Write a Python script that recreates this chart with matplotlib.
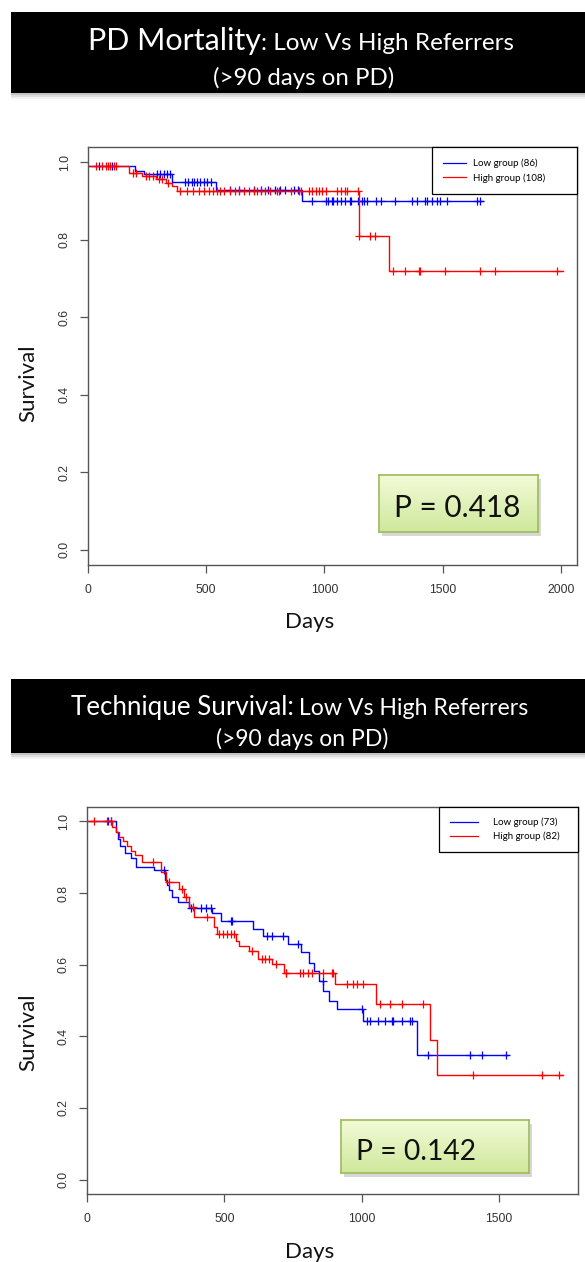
import numpy as np
import matplotlib
matplotlib.use("Agg")
import matplotlib.pyplot as plt
from matplotlib.patches import Rectangle

# ---- data (Kaplan-Meier steps: time in days, survival) ----
# PD mortality
mort_low_t = [0, 199, 237, 356, 542, 907]
mort_low_s = [0.99, 0.977, 0.969, 0.95, 0.929, 0.90]
mort_low_end = 1669
mort_low_cens = [45, 100, 290, 305, 320, 335, 345, 410, 425, 440, 450, 460, 475, 490, 505, 520,
                 600, 640, 700, 730, 760, 790, 810, 835, 870, 890,
                 949, 1008, 1013, 1030, 1034, 1051, 1072, 1085, 1106, 1114, 1140, 1157, 1169, 1178,
                 1220, 1241, 1297, 1369, 1390, 1424, 1432, 1453, 1475, 1487, 1517, 1644, 1657]
mort_high_t = [0, 174, 230, 288, 330, 356, 377, 1144, 1271]
mort_high_s = [0.99, 0.973, 0.965, 0.958, 0.948, 0.939, 0.926, 0.81, 0.72]
mort_high_end = 2008
mort_high_cens = [35, 60, 75, 85, 95, 110, 120, 190, 205, 245, 260, 275, 300, 315, 340,
                  390, 420, 445, 470, 490, 510, 530, 545, 560, 575, 600, 620, 640, 660, 680, 700,
                  715, 730, 750, 770, 800, 809, 860, 894, 902, 936, 949, 966, 979, 991, 1008,
                  1055, 1072, 1085, 1097, 1140, 1148, 1191, 1212,
                  1288, 1339, 1398, 1402, 1508, 1657, 1720, 1983]
mort_labels = ["Low group (86)", "High group (108)"]
mort_p = "P = 0.418"
mort_xticks = [0, 500, 1000, 1500, 2000]

# Technique survival
tech_low_t = [0, 106, 112, 120, 137, 160, 178, 245, 285, 292, 300, 310, 330, 372, 457, 488,
              604, 640, 731, 780, 810, 825, 845, 860, 880, 909, 1004, 1201]
tech_low_s = [1.0, 0.97, 0.95, 0.93, 0.913, 0.898, 0.873, 0.864, 0.836, 0.822, 0.808, 0.79,
              0.775, 0.757, 0.743, 0.723, 0.70, 0.68, 0.658, 0.634, 0.606, 0.582, 0.554,
              0.526, 0.498, 0.475, 0.442, 0.349]
tech_low_end = 1533
tech_low_cens = [77, 88, 281, 379, 415, 433, 451, 524, 528, 657, 672, 712, 767, 858, 1000,
                 1018, 1029, 1059, 1084, 1110, 1113, 1146, 1175, 1183, 1241, 1394, 1438, 1526]
tech_high_t = [0, 91, 104, 117, 131, 146, 160, 175, 201, 270, 289, 336, 354, 372, 391, 464,
               475, 544, 555, 591, 621, 675, 719, 902, 1054, 1248, 1274]
tech_high_s = [1.0, 0.985, 0.97, 0.957, 0.945, 0.93, 0.918, 0.905, 0.887, 0.859, 0.831, 0.81,
               0.788, 0.76, 0.733, 0.704, 0.686, 0.667, 0.652, 0.639, 0.616, 0.602, 0.578,
               0.545, 0.489, 0.39, 0.292]
tech_high_end = 1734
tech_high_cens = [26, 73, 88, 240, 300, 345, 360, 385, 438, 482, 495, 510, 525, 537, 600,
                  639, 650, 664, 690, 723, 726, 774, 785, 803, 818, 858, 891, 894, 945, 967,
                  982, 1004, 1066, 1102, 1146, 1223, 1405, 1657, 1719]
tech_labels = ["Low group (73)", "High group (82)"]
tech_p = "P = 0.142"
tech_xticks = [0, 500, 1000, 1500]

yticks = [0.0, 0.2, 0.4, 0.6, 0.8, 1.0]

W, H = 585, 1262
SANS = ["Lato", "DejaVu Sans"]
TICKF = ["Liberation Sans", "DejaVu Sans"]

fig = plt.figure(figsize=(W / 100, H / 100), dpi=100)
fig.patch.set_facecolor("white")
renderer = fig.canvas.get_renderer()


def frect(x0, y0, x1, y1):
    """pixel box (top-left origin) -> figure fraction [l, b, w, h]"""
    return [x0 / W, 1 - y1 / H, (x1 - x0) / W, (y1 - y0) / H]


def fit_text(x, y, s, width, **kw):
    """place text at pixel x (left) / baseline y, sized so it is `width` px wide"""
    t = fig.text(x / W, 1 - y / H, s, fontsize=10, family=SANS, va="baseline", **kw)
    w = t.get_window_extent(renderer).width
    t.set_fontsize(10 * width / w)
    return t


def banner(y0, y1, parts, line2, l2_span, base1, base2):
    # soft grey shadow, then the black bar
    for k, a in enumerate([0.10, 0.18, 0.28]):
        fig.add_artist(Rectangle((11 / W, 1 - (y1 + 6 - 2 * k) / H), 1, (y1 - y0) / H,
                                 transform=fig.transFigure, color="#808080", alpha=a, lw=0))
    fig.add_artist(Rectangle((11 / W, 1 - y1 / H), 1, (y1 - y0) / H,
                             transform=fig.transFigure, color="black", lw=0))
    x = parts[0][1]
    for s, x0, x1 in parts:
        fit_text(x, base1, s, x1 - x0, color="white")
        x = x1
    fit_text(l2_span[0], base2, line2, l2_span[1] - l2_span[0], color="white")


def pbox(x0, y0, x1, y1, s, tx, tw, base):
    sh = fig.add_axes(frect(x0 + 3, y0 + 4, x1 + 3, y1 + 4))
    sh.set_facecolor("#bdbdbd")
    sh.set_xticks([]); sh.set_yticks([])
    for sp in sh.spines.values():
        sp.set_visible(False)
    sh.patch.set_alpha(0.6)
    b = fig.add_axes(frect(x0, y0, x1, y1))
    grad = np.linspace(0, 1, 64)[:, None]
    cmap = matplotlib.colors.LinearSegmentedColormap.from_list("g", ["#f3fbd8", "#cfe89c"])
    b.imshow(grad, aspect="auto", cmap=cmap, extent=[0, 1, 1, 0])
    b.set_xticks([]); b.set_yticks([])
    for sp in b.spines.values():
        sp.set_color("#9dbb5a"); sp.set_linewidth(1.2)
    fit_text(tx, base, s, tw, color="#111111")


def km(ax, t, s, end, cens, color):
    t = np.asarray(t, float); s = np.asarray(s, float)
    ax.step(np.r_[t, end], np.r_[s, s[-1]], where="post", color=color, lw=1.0)
    c = np.asarray(cens, float)
    cy = s[np.searchsorted(t, c, side="right") - 1]
    ax.plot(c, cy, "+", color=color, ms=6, mew=0.9, ls="none")


def panel(rect, low, high, labels, xticks, xmax, leg_anchor, leg_kw, xlab_y, ylab_y):
    ax = fig.add_axes(rect)
    km(ax, *low, color="#0000ff")
    km(ax, *high, color="#ff0000")
    ax.set_xlim(0, xmax)
    ax.set_ylim(-0.04, 1.04)
    ax.set_xticks(xticks)
    ax.set_yticks(yticks)
    ax.set_yticklabels([f"{v:.1f}" for v in yticks], rotation=90, va="center")
    for sp in ax.spines.values():
        sp.set_color("#555555"); sp.set_linewidth(1.0)
    ax.tick_params(direction="out", length=5.5, width=0.9, color="#555555",
                   labelcolor="#333333", labelsize=8.8)
    ax.tick_params(axis="x", pad=8)
    ax.tick_params(axis="y", pad=7)
    for lab in ax.get_xticklabels() + ax.get_yticklabels():
        lab.set_family(TICKF)
    h1, = ax.plot([], [], color="#0000ff", lw=0.9)
    h2, = ax.plot([], [], color="#ff0000", lw=0.9)
    leg = ax.legend([h1, h2], labels, loc="upper right", bbox_to_anchor=leg_anchor,
                    mode="expand", borderaxespad=0, fancybox=False, framealpha=1,
                    prop={"family": SANS, "size": 7}, **leg_kw)
    leg.get_frame().set_edgecolor("black")
    leg.get_frame().set_linewidth(0.9)
    fig.text(310 / W, 1 - xlab_y / H, "Days", family=SANS, fontsize=16,
             ha="center", va="center", color="#111111")
    fig.text(28 / W, 1 - ylab_y / H, "Survival", family=SANS, fontsize=16,
             rotation=90, ha="center", va="center", color="#111111")
    return ax


# ---- top: PD mortality ----
banner(12, 93, [("PD Mortality", 88, 261), (": Low Vs High Referrers", 261, 513)],
       "(>90 days on PD)", (213, 393), 50, 85)
panel(frect(88, 147, 577, 565),
      (mort_low_t, mort_low_s, mort_low_end, mort_low_cens),
      (mort_high_t, mort_high_s, mort_high_end, mort_high_cens),
      mort_labels, mort_xticks, 2068, (0.703, 0.0, 0.297, 1.0),
      dict(borderpad=1.2, labelspacing=0.5, handlelength=2.3, handletextpad=0.7),
      622, 383)
pbox(379, 475, 538, 532, mort_p, 394, 126, 517)

# ---- bottom: technique survival ----
banner(679, 753, [("Technique Survival:", 71, 293), (" Low Vs High Referrers", 293, 528)],
       "(>90 days on PD)", (216, 388), 715, 746)
panel(frect(87, 807, 578, 1194),
      (tech_low_t, tech_low_s, tech_low_end, tech_low_cens),
      (tech_high_t, tech_high_s, tech_high_end, tech_high_cens),
      tech_labels, tech_xticks, 1788, (0.717, 0.0, 0.283, 1.0),
      dict(borderpad=1.1, labelspacing=0.45, handlelength=2.9, handletextpad=1.6),
      1252, 1032)
pbox(341, 1120, 529, 1173, tech_p, 356, 120, 1160)

fig.savefig("out.png", dpi=100)
